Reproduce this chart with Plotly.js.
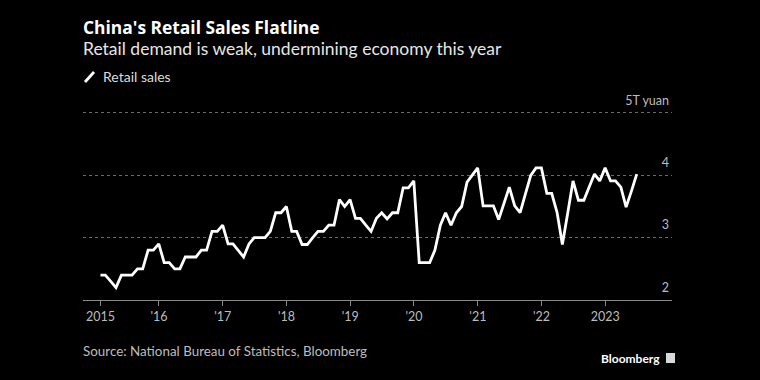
<!DOCTYPE html>
<html>
<head>
<meta charset="utf-8">
<script src="https://cdn.plot.ly/plotly-3.0.1.min.js"></script>
<style>
html,body{margin:0;padding:0;background:#000;}
#chart{width:760px;height:380px;}
</style>
</head>
<body>
<div id="chart"></div>
<script>
// Monthly retail sales, trillion yuan, Jan 2015 - Jun 2023
var startYear = 2015;
var sales2015 = [2.40, 2.40, 2.30, 2.20, 2.40, 2.40, 2.40, 2.50, 2.50, 2.80, 2.80, 2.90];
var sales2016 = [2.60, 2.60, 2.50, 2.50, 2.69, 2.69, 2.69, 2.80, 2.80, 3.10, 3.10, 3.20];
var sales2017 = [2.90, 2.90, 2.80, 2.69, 2.90, 3.00, 3.00, 3.00, 3.10, 3.40, 3.40, 3.50];
var sales2018 = [3.10, 3.10, 2.89, 2.89, 3.00, 3.10, 3.10, 3.20, 3.20, 3.61, 3.50, 3.61];
var sales2019 = [3.31, 3.31, 3.20, 3.10, 3.31, 3.40, 3.30, 3.40, 3.40, 3.80, 3.80, 3.91];
var sales2020 = [2.60, 2.60, 2.60, 2.80, 3.20, 3.40, 3.20, 3.40, 3.50, 3.89, 4.00, 4.12];
var sales2021 = [3.51, 3.51, 3.51, 3.29, 3.55, 3.81, 3.51, 3.40, 3.70, 4.00, 4.12, 4.12];
var sales2022 = [3.71, 3.71, 3.40, 2.89, 3.40, 3.91, 3.60, 3.60, 3.81, 4.02, 3.91, 4.12];
var sales2023 = [3.91, 3.91, 3.81, 3.49, 3.75, 4.02];

var tickDates = ["2015-01-31","2016-01-01","2017-01-01","2018-01-01","2019-01-01","2020-01-01","2021-01-01","2022-01-01","2023-01-01"];
var tickLabels = ["2015","'16","'17","'18","'19","'20","'21","'22","2023"];
var yTickVals = [2, 3, 4, 5];
var yTickText = ["2", "3", "4", "5T yuan"];

var values = [].concat(sales2015, sales2016, sales2017, sales2018, sales2019,
                       sales2020, sales2021, sales2022, sales2023);
function pad(n){return (n<10?'0':'')+n;}
var dates = values.map(function(v, i){
  var y = startYear + Math.floor(i/12), m = i % 12 + 1;
  var d = new Date(Date.UTC(y, m, 0)).getUTCDate();
  return y + '-' + pad(m) + '-' + pad(d);
});

var FONT = 'Lato, "Noto Sans", sans-serif';
var TFONT = '"Open Sans", Lato, sans-serif';
var L = 83, R = 672, T = 110, B = 300;
function px(x){return (x-L)/(R-L);}
function py(y){return (B-y)/(B-T);}

var trace = {
  x: dates, y: values, type: 'scatter', mode: 'lines',
  line: {color: '#ffffff', width: 2.8, shape: 'linear'},
  hoverinfo: 'skip', showlegend: false
};

var layout = {
  width: 760, height: 380,
  paper_bgcolor: '#000', plot_bgcolor: '#000',
  margin: {l: L, r: 760-R, t: T, b: 380-B, pad: 0},
  font: {family: FONT, color: '#bdbdbd', size: 12.5},
  xaxis: {
    type: 'date', range: ['2014-10-23', '2024-01-18'],
    tickmode: 'array', tickvals: tickDates, ticktext: tickLabels,
    showgrid: false, zeroline: false,
    showline: true, linecolor: '#8a8a8a', linewidth: 1,
    ticks: 'outside', ticklen: 5, tickcolor: '#8a8a8a', tickwidth: 1,
    tickfont: {family: FONT, size: 12.5, color: '#bdbdbd'},
    fixedrange: true
  },
  yaxis: {
    range: [2, 5.048], side: 'right',
    tickmode: 'array', tickvals: yTickVals, ticktext: yTickText,
    ticklabelposition: 'inside top', ticklabeloverflow: 'allow',
    ticklabelshift: -4,
    showgrid: true, gridcolor: '#6a6a6a', griddash: 'dot', gridwidth: 1,
    zeroline: false, showline: false, ticks: '',
    tickfont: {family: FONT, size: 12.5, color: '#bdbdbd'},
    fixedrange: true
  },
  shapes: [
    {type: 'line', xref: 'paper', yref: 'paper', x0: px(85), y0: py(82), x1: px(94), y1: py(72),
     line: {color: '#ffffff', width: 2.8}},
    {type: 'rect', xref: 'paper', yref: 'paper', x0: px(666), y0: py(363), x1: px(675), y1: py(353),
     line: {width: 0}, fillcolor: '#d8d8d8'}
  ],
  annotations: [
    {text: "<b>China's Retail Sales Flatline</b>", xref: 'paper', yref: 'paper', x: 0, y: py(27),
     xanchor: 'left', yanchor: 'middle', showarrow: false, xshift: -2,
     font: {family: TFONT, size: 17.4, color: '#ffffff'}},
    {text: 'Retail demand is weak, undermining economy this year', xref: 'paper', yref: 'paper', x: 0, y: py(48),
     xanchor: 'left', yanchor: 'middle', showarrow: false, xshift: -2,
     font: {family: FONT, size: 17.5, color: '#e6e6e6'}},
    {text: 'Retail sales', xref: 'paper', yref: 'paper', x: px(101), y: py(77),
     xanchor: 'left', yanchor: 'middle', showarrow: false,
     font: {family: FONT, size: 14, color: '#dcdcdc'}},
    {text: 'Source: National Bureau of Statistics, Bloomberg', xref: 'paper', yref: 'paper', x: 0, y: py(351),
     xanchor: 'left', yanchor: 'middle', showarrow: false, xshift: -2,
     font: {family: FONT, size: 13.4, color: '#bdbdbd'}},
    {text: '<b>Bloomberg</b>', xref: 'paper', yref: 'paper', x: px(662), y: py(358),
     xanchor: 'right', yanchor: 'middle', showarrow: false,
     font: {family: FONT, size: 12, color: '#ffffff'}}
  ]
};

Plotly.newPlot('chart', [trace], layout, {displayModeBar: false, staticPlot: true});
</script>
</body>
</html>
